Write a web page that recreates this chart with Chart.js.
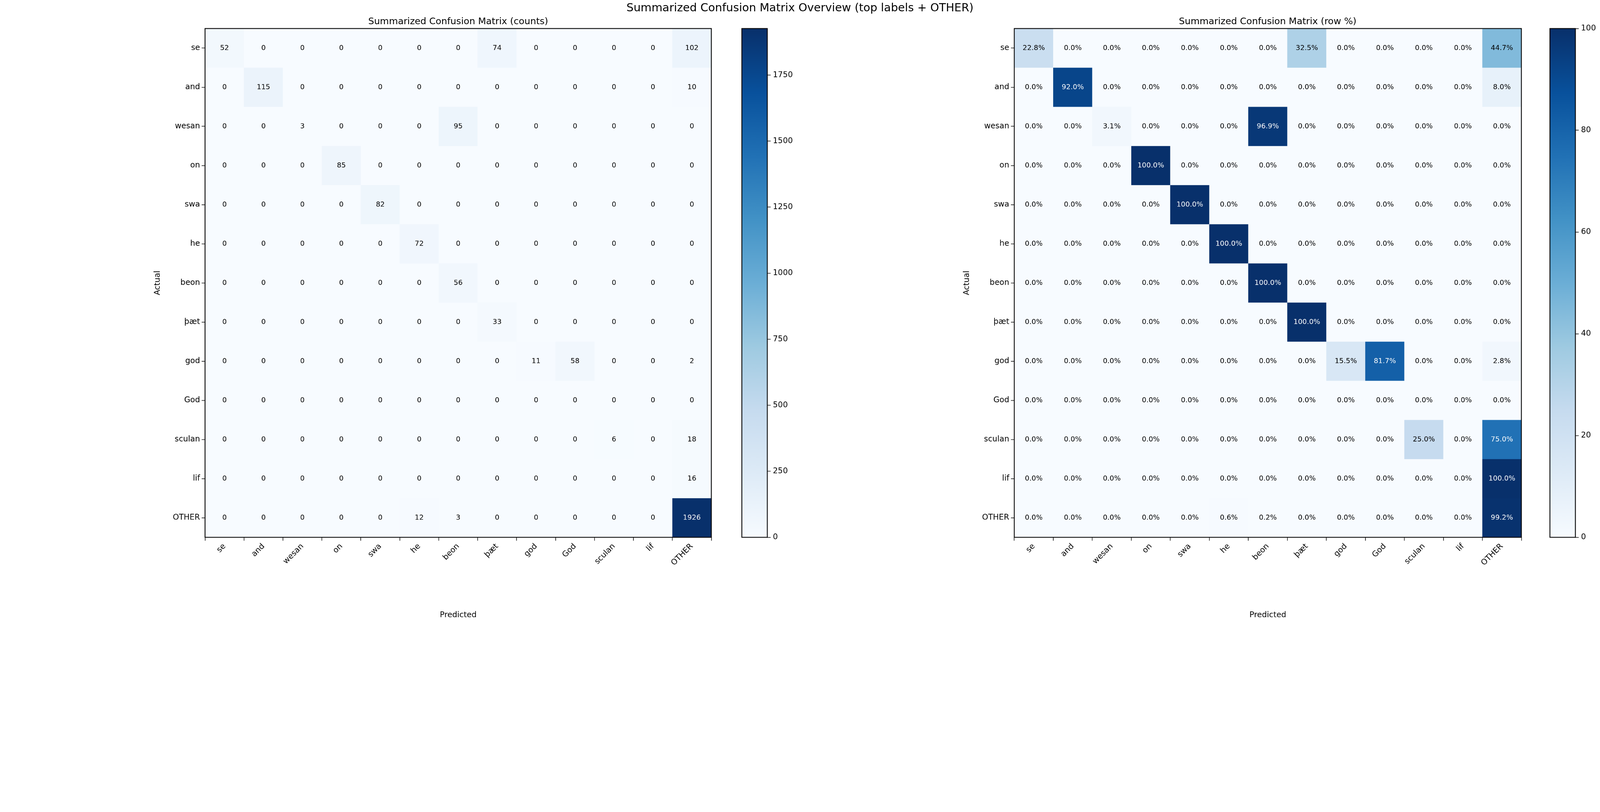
<!DOCTYPE html>
<html lang="en">
<head>
<meta charset="UTF-8">
<title>Summarized Confusion Matrix Overview</title>
<script src="https://cdn.jsdelivr.net/npm/chart.js"></script>
<style>
  * { margin: 0; padding: 0; box-sizing: border-box; }
  html, body { background: #fff; overflow: hidden; }
  #page { width: 5720px; height: 2080px; position: relative; transform-origin: 0 0; font-family: "DejaVu Sans", sans-serif; }
  .box { position: absolute; }
  .title { position: absolute; text-align: center; color: #000; white-space: nowrap; transform: translateX(-50%); }
</style>
</head>
<body>
<div id="page">
<div class="title" style="left:2860px;top:4px;font-size:40px">Summarized Confusion Matrix Overview (top labels + OTHER)</div>
<div class="title" style="left:1638px;top:56px;font-size:33px">Summarized Confusion Matrix (counts)</div>
<div class="title" style="left:4532px;top:56px;font-size:33px">Summarized Confusion Matrix (row %)</div>

<div class="box" id="m1"><canvas id="c1"></canvas></div>
<div class="box" id="b1"><canvas id="cb1"></canvas></div>
<div class="box" id="m2"><canvas id="c2"></canvas></div>
<div class="box" id="b2"><canvas id="cb2"></canvas></div>
</div>

<script>
// fit the 5720x2080 layout to whatever viewport we get
document.getElementById('page').style.transform = `scale(${window.innerWidth / 5720})`;

// ─── data ─────────────────────────────────────────────────────────────────────
const labels = ['se', 'and', 'wesan', 'on', 'swa', 'he', 'beon', 'þæt', 'god', 'God', 'sculan', 'lif', 'OTHER'];

const counts = [
  [52, 0, 0, 0, 0, 0, 0, 74, 0, 0, 0, 0, 102],
  [0, 115, 0, 0, 0, 0, 0, 0, 0, 0, 0, 0, 10],
  [0, 0, 3, 0, 0, 0, 95, 0, 0, 0, 0, 0, 0],
  [0, 0, 0, 85, 0, 0, 0, 0, 0, 0, 0, 0, 0],
  [0, 0, 0, 0, 82, 0, 0, 0, 0, 0, 0, 0, 0],
  [0, 0, 0, 0, 0, 72, 0, 0, 0, 0, 0, 0, 0],
  [0, 0, 0, 0, 0, 0, 56, 0, 0, 0, 0, 0, 0],
  [0, 0, 0, 0, 0, 0, 0, 33, 0, 0, 0, 0, 0],
  [0, 0, 0, 0, 0, 0, 0, 0, 11, 58, 0, 0, 2],
  [0, 0, 0, 0, 0, 0, 0, 0, 0, 0, 0, 0, 0],
  [0, 0, 0, 0, 0, 0, 0, 0, 0, 0, 6, 0, 18],
  [0, 0, 0, 0, 0, 0, 0, 0, 0, 0, 0, 0, 16],
  [0, 0, 0, 0, 0, 12, 3, 0, 0, 0, 0, 0, 1926],
];

const rowPct = [
  [22.8, 0, 0, 0, 0, 0, 0, 32.5, 0, 0, 0, 0, 44.7],
  [0, 92.0, 0, 0, 0, 0, 0, 0, 0, 0, 0, 0, 8.0],
  [0, 0, 3.1, 0, 0, 0, 96.9, 0, 0, 0, 0, 0, 0],
  [0, 0, 0, 100, 0, 0, 0, 0, 0, 0, 0, 0, 0],
  [0, 0, 0, 0, 100, 0, 0, 0, 0, 0, 0, 0, 0],
  [0, 0, 0, 0, 0, 100, 0, 0, 0, 0, 0, 0, 0],
  [0, 0, 0, 0, 0, 0, 100, 0, 0, 0, 0, 0, 0],
  [0, 0, 0, 0, 0, 0, 0, 100, 0, 0, 0, 0, 0],
  [0, 0, 0, 0, 0, 0, 0, 0, 15.5, 81.7, 0, 0, 2.8],
  [0, 0, 0, 0, 0, 0, 0, 0, 0, 0, 0, 0, 0],
  [0, 0, 0, 0, 0, 0, 0, 0, 0, 0, 25.0, 0, 75.0],
  [0, 0, 0, 0, 0, 0, 0, 0, 0, 0, 0, 0, 100],
  [0, 0, 0, 0, 0, 0.6, 0.2, 0, 0, 0, 0, 0, 99.2],
];

const countTicks = [0, 250, 500, 750, 1000, 1250, 1500, 1750];
const pctTicks   = [0, 20, 40, 60, 80, 100];

// ─── Blues colormap ───────────────────────────────────────────────────────────
const blues = ['#f7fbff', '#deebf7', '#c6dbef', '#9ecae1', '#6baed6', '#4292c6', '#2171b5', '#08519c', '#08306b'];
const hex = h => [1, 3, 5].map(i => parseInt(h.substr(i, 2), 16));
function bluesAt(t) {
  t = Math.max(0, Math.min(1, t)) * (blues.length - 1);
  const i = Math.min(Math.floor(t), blues.length - 2), f = t - i;
  const a = hex(blues[i]), b = hex(blues[i + 1]);
  return `rgb(${a.map((v, k) => Math.round(v + (b[k] - v) * f)).join(',')})`;
}

Chart.defaults.font.family = '"DejaVu Sans", sans-serif';
Chart.defaults.color = '#000';
Chart.defaults.animation = false;

const N = labels.length;
const frame = {
  id: 'frame',
  afterDraw(chart) {
    const a = chart.chartArea, ctx = chart.ctx;
    ctx.save(); ctx.strokeStyle = '#000'; ctx.lineWidth = 3;
    ctx.strokeRect(a.left, a.top, a.right - a.left, a.bottom - a.top);
    ctx.restore();
  }
};

// area: chart area position in page; pad is room around it
const PAD = 30, YW = 190, XH = 300;

function matrix(id, boxId, area, matrixData, vmax, fmt) {
  const box = document.getElementById(boxId);
  box.style.left = (area.x - YW - PAD) + 'px';
  box.style.top = (area.y - PAD) + 'px';
  box.style.width = (area.w + YW + 2 * PAD) + 'px';
  box.style.height = (area.h + XH + 2 * PAD) + 'px';

  const datasets = matrixData.map((row, r) => ({
    data: row.map(() => [N - 1 - r, N - r]),
    backgroundColor: row.map(v => bluesAt(v / vmax)),
    borderWidth: 0,
    grouped: false,
    barPercentage: 1,
    categoryPercentage: 1,
  }));

  const cellText = {
    id: 'cellText',
    afterDatasetsDraw(chart) {
      const ctx = chart.ctx, xs = chart.scales.x, ys = chart.scales.y;
      ctx.save();
      ctx.font = '25px "DejaVu Sans", sans-serif';
      ctx.textAlign = 'center'; ctx.textBaseline = 'middle';
      matrixData.forEach((row, r) => row.forEach((v, c) => {
        ctx.fillStyle = v > vmax / 2 ? '#fff' : '#000';
        ctx.fillText(fmt(v), xs.getPixelForValue(c), ys.getPixelForValue(N - 0.5 - r));
      }));
      ctx.restore();
    }
  };

  new Chart(document.getElementById(id), {
    type: 'bar',
    data: { labels, datasets },
    options: {
      responsive: true, maintainAspectRatio: false,
      layout: { padding: PAD },
      plugins: { legend: { display: false }, tooltip: { enabled: false } },
      scales: {
        x: {
          grid: { drawOnChartArea: false, color: '#000', tickLength: 12, tickWidth: 2 },
          border: { display: false },
          ticks: { font: { size: 28 }, maxRotation: 45, minRotation: 45, padding: 4 },
          title: { display: true, text: 'Predicted', font: { size: 28 }, padding: { top: 14 } },
          afterFit(s) { s.height = XH; },
        },
        y: {
          min: 0, max: N,
          grid: { drawOnChartArea: false, color: '#000', tickLength: 12, tickWidth: 2 },
          border: { display: false },
          afterBuildTicks(s) { s.ticks = labels.map((_, i) => ({ value: N - 0.5 - i })); },
          ticks: { font: { size: 28 }, padding: 6, callback: v => labels[Math.round(N - 0.5 - v)] },
          title: { display: true, text: 'Actual', font: { size: 28 } },
          afterFit(s) { s.width = YW; },
        }
      }
    },
    plugins: [cellText, frame]
  });
}

function colorbar(id, boxId, area, vmax, tickVals) {
  const CW = 150;
  const box = document.getElementById(boxId);
  box.style.left = (area.x - PAD) + 'px';
  box.style.top = (area.y - PAD) + 'px';
  box.style.width = (area.w + CW + 2 * PAD) + 'px';
  box.style.height = (area.h + 2 * PAD) + 'px';

  new Chart(document.getElementById(id), {
    type: 'bar',
    data: {
      labels: [''],
      datasets: [{
        data: [[0, vmax]],
        borderWidth: 0, barPercentage: 1, categoryPercentage: 1,
        backgroundColor(ctx) {
          const a = ctx.chart.chartArea;
          if (!a) return blues[4];
          const g = ctx.chart.ctx.createLinearGradient(0, a.bottom, 0, a.top);
          blues.forEach((c, i) => g.addColorStop(i / (blues.length - 1), c));
          return g;
        }
      }]
    },
    options: {
      responsive: true, maintainAspectRatio: false,
      layout: { padding: PAD },
      plugins: { legend: { display: false }, tooltip: { enabled: false } },
      scales: {
        x: { display: false },
        y: {
          position: 'right', min: 0, max: vmax,
          grid: { drawOnChartArea: false, color: '#000', tickLength: 12, tickWidth: 2 },
          border: { display: false },
          afterBuildTicks(s) { s.ticks = tickVals.map(v => ({ value: v })); },
          ticks: { font: { size: 28 }, padding: 8, callback: v => String(v) },
          afterFit(s) { s.width = CW; },
        }
      }
    },
    plugins: [frame]
  });
}

const vmaxCounts = Math.max(...counts.flat());
matrix('c1', 'm1', { x: 733, y: 102, w: 1810, h: 1820 }, counts, vmaxCounts, v => String(v));
colorbar('cb1', 'b1', { x: 2652, y: 102, w: 91, h: 1820 }, vmaxCounts, countTicks);
matrix('c2', 'm2', { x: 3626, y: 102, w: 1813, h: 1820 }, rowPct, 100, v => v.toFixed(1) + '%');
colorbar('cb2', 'b2', { x: 5541, y: 102, w: 91, h: 1820 }, 100, pctTicks);
</script>
</body>
</html>
